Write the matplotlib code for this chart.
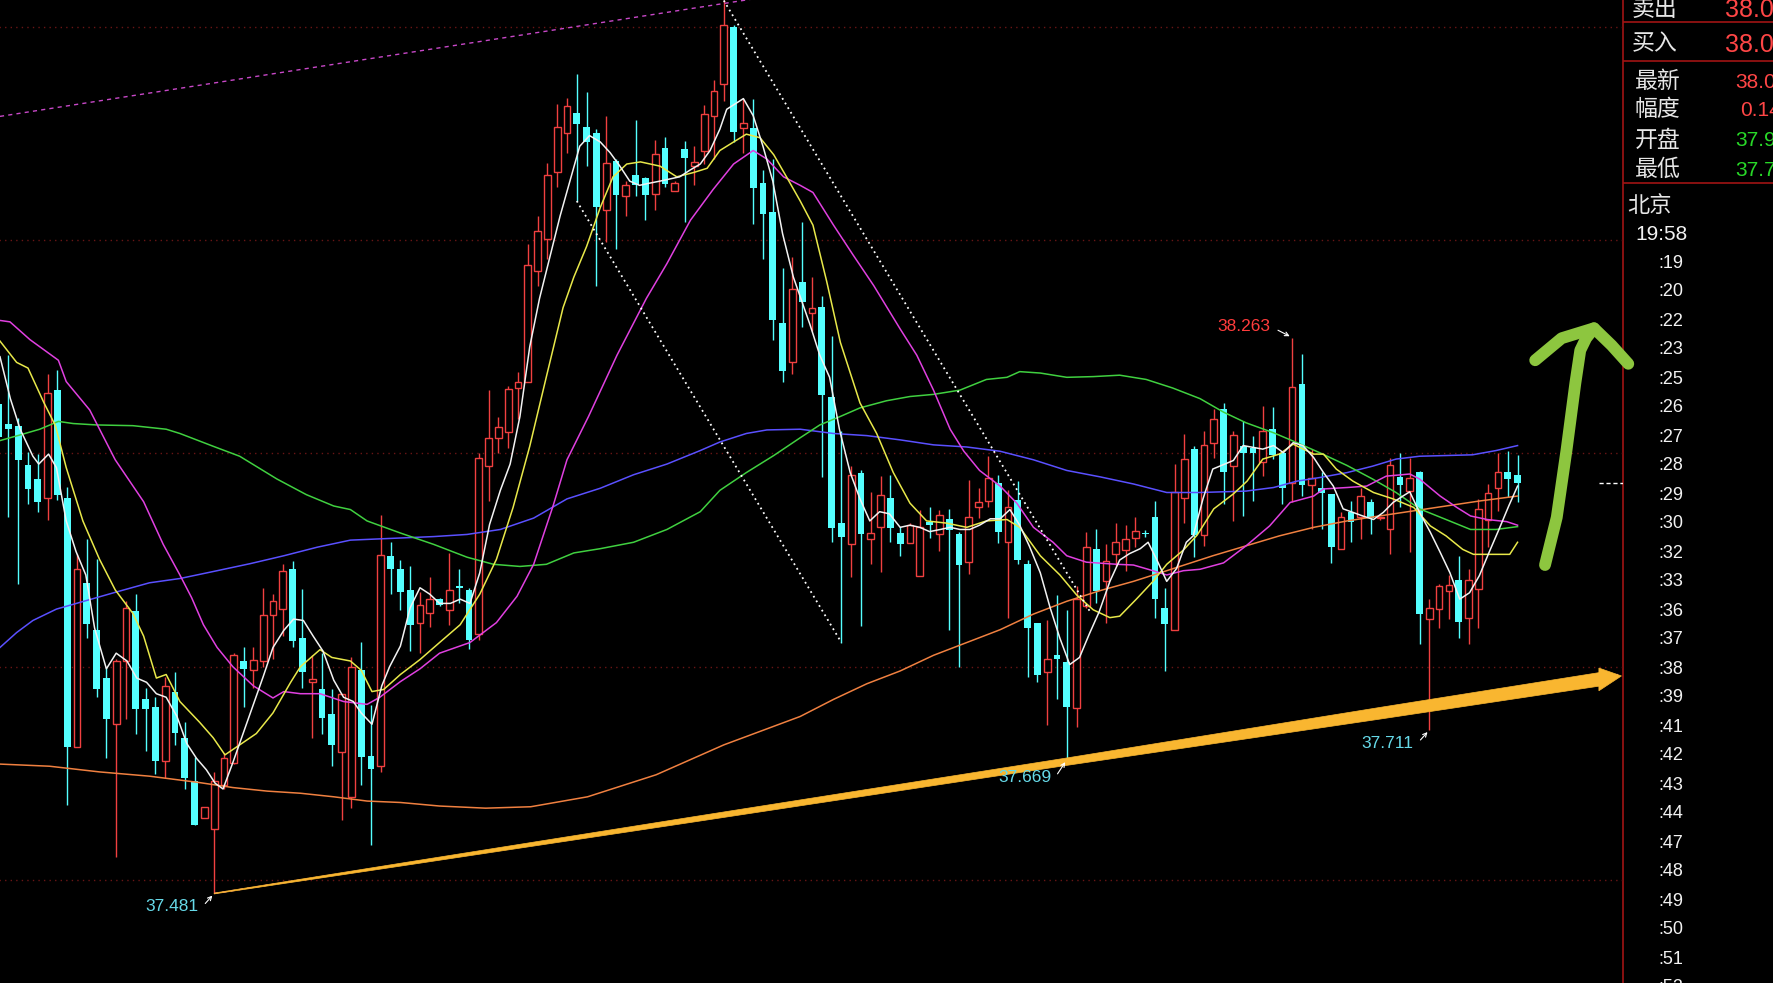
#%%
import numpy as np
import matplotlib
matplotlib.use('Agg')
import matplotlib.pyplot as plt
from matplotlib.patches import Polygon

plt.rcParams['font.family'] = ['Liberation Sans', 'Noto Sans CJK SC', 'DejaVu Sans']

W, H = 1773, 983

# ---- OHLC, bar index -1 .. 154 (bar -1 is cut by the left edge) ----
opens = [38.169, 38.142, 38.139, 38.083, 38.064, 38.037, 38.189, 38.037, 37.687, 37.918,
         37.851, 37.784, 37.719, 37.808, 37.878, 37.755, 37.743, 37.667, 37.764, 37.699,
         37.639, 37.587, 37.571, 37.633, 37.665, 37.808, 37.795, 37.808, 37.873, 37.881,
         37.937, 37.840, 37.778, 37.769, 37.733, 37.680, 37.617, 37.795, 37.675, 37.660,
         37.956, 37.937, 37.908, 37.861, 37.876, 37.895, 37.880, 37.914, 37.908, 37.846,
         38.082, 38.122, 38.130, 38.192, 38.201, 38.357, 38.402, 38.496, 38.550, 38.579,
         38.559, 38.550, 38.443, 38.511, 38.462, 38.492, 38.487, 38.465, 38.529, 38.469,
         38.528, 38.504, 38.526, 38.574, 38.619, 38.700, 38.558, 38.558, 38.480, 38.439,
         38.284, 38.229, 38.341, 38.298, 38.306, 38.180, 38.002, 37.972, 38.072, 37.979,
         37.996, 38.037, 37.988, 37.974, 37.928, 38.004, 37.987, 38.008, 37.987, 37.947,
         38.024, 38.033, 38.059, 37.975, 38.035, 37.944, 37.861, 37.792, 37.817, 37.806,
         37.742, 37.886, 37.966, 37.921, 37.958, 37.964, 37.981, 37.988, 38.010, 37.883,
         37.851, 38.037, 38.106, 37.985, 38.114, 38.162, 38.082, 38.111, 38.107, 38.088,
         38.135, 38.100, 38.059, 38.197, 38.055, 38.051, 38.043, 37.966, 38.017, 38.011,
         38.032, 38.009, 37.993, 38.067, 38.047, 38.074, 37.867, 37.881, 37.907, 37.922,
         37.869, 37.909, 38.007, 38.052, 38.074, 38.069]
highs = [38.180, 38.239, 38.150, 38.102, 38.099, 38.212, 38.217, 38.053, 37.959, 37.979,
         37.951, 37.800, 37.811, 37.892, 37.902, 37.770, 37.757, 37.786, 37.792, 37.722,
         37.673, 37.603, 37.652, 37.679, 37.819, 37.827, 37.827, 37.910, 37.902, 37.944,
         37.948, 37.909, 37.816, 37.819, 37.768, 37.762, 37.813, 37.835, 37.746, 38.014,
         37.975, 37.950, 37.941, 37.905, 37.926, 37.897, 37.960, 37.938, 37.911, 38.100,
         38.189, 38.151, 38.195, 38.214, 38.394, 38.434, 38.509, 38.591, 38.600, 38.633,
         38.608, 38.556, 38.575, 38.514, 38.483, 38.569, 38.489, 38.541, 38.545, 38.483,
         38.540, 38.532, 38.590, 38.625, 38.737, 38.702, 38.599, 38.599, 38.498, 38.514,
         38.361, 38.376, 38.425, 38.348, 38.321, 38.265, 38.131, 38.082, 38.076, 38.045,
         38.068, 38.070, 37.996, 38.002, 38.021, 38.025, 38.021, 38.022, 37.990, 38.062,
         38.051, 38.097, 38.070, 38.048, 38.061, 37.950, 37.861, 37.865, 37.901, 37.880,
         37.914, 37.990, 37.993, 37.972, 38.002, 37.999, 38.010, 37.992, 38.033, 37.911,
         38.085, 38.127, 38.111, 38.132, 38.162, 38.171, 38.132, 38.146, 38.125, 38.166,
         38.165, 38.101, 38.263, 38.240, 38.106, 38.074, 38.043, 38.017, 38.033, 38.051,
         38.036, 38.011, 38.094, 38.100, 38.094, 38.075, 37.895, 37.916, 37.929, 37.956,
         37.937, 38.036, 38.057, 38.100, 38.104, 38.098]
lows = [38.100, 38.010, 37.916, 38.029, 38.018, 38.007, 38.034, 37.606, 37.687, 37.840,
        37.757, 37.671, 37.533, 37.727, 37.706, 37.681, 37.649, 37.644, 37.690, 37.628,
        37.578, 37.587, 37.481, 37.628, 37.663, 37.743, 37.770, 37.800, 37.811, 37.843,
        37.827, 37.770, 37.700, 37.706, 37.660, 37.584, 37.601, 37.633, 37.549, 37.652,
        37.902, 37.880, 37.822, 37.819, 37.856, 37.885, 37.859, 37.889, 37.825, 37.837,
        38.033, 38.100, 38.107, 38.149, 38.201, 38.336, 38.373, 38.474, 38.523, 38.455,
        38.504, 38.336, 38.397, 38.388, 38.434, 38.462, 38.428, 38.442, 38.474, 38.469,
        38.426, 38.477, 38.507, 38.514, 38.596, 38.538, 38.523, 38.422, 38.373, 38.260,
        38.201, 38.211, 38.278, 38.272, 38.067, 37.975, 37.834, 37.926, 37.857, 37.944,
        37.933, 37.976, 37.956, 37.974, 37.928, 37.981, 37.963, 37.851, 37.799, 37.931,
        38.009, 38.024, 37.974, 37.868, 37.944, 37.785, 37.779, 37.718, 37.754, 37.669,
        37.715, 37.883, 37.889, 37.862, 37.941, 37.935, 37.969, 37.982, 37.868, 37.794,
        37.851, 38.002, 37.954, 37.970, 38.093, 38.029, 38.005, 38.012, 38.033, 38.068,
        38.092, 38.029, 38.031, 38.040, 37.993, 37.993, 37.946, 37.966, 37.975, 37.979,
        37.986, 38.007, 37.958, 38.025, 37.961, 37.832, 37.711, 37.855, 37.867, 37.841,
        37.832, 37.855, 37.968, 38.019, 38.038, 38.032]
closes = [38.123, 38.134, 38.091, 38.050, 38.032, 38.185, 38.042, 37.687, 37.937, 37.860,
          37.769, 37.727, 37.808, 37.883, 37.741, 37.740, 37.668, 37.773, 37.707, 37.644,
          37.578, 37.603, 37.639, 37.671, 37.816, 37.797, 37.810, 37.873, 37.892, 37.934,
          37.836, 37.792, 37.782, 37.728, 37.690, 37.761, 37.799, 37.673, 37.656, 37.957,
          37.938, 37.905, 37.859, 37.887, 37.895, 37.887, 37.908, 37.911, 37.837, 38.094,
          38.121, 38.137, 38.191, 38.200, 38.365, 38.413, 38.492, 38.559, 38.588, 38.563,
          38.538, 38.446, 38.509, 38.463, 38.478, 38.477, 38.463, 38.521, 38.479, 38.480,
          38.515, 38.510, 38.578, 38.610, 38.702, 38.552, 38.564, 38.473, 38.437, 38.288,
          38.216, 38.331, 38.313, 38.305, 38.182, 37.995, 37.983, 38.070, 37.987, 37.988,
          38.041, 37.995, 37.972, 37.999, 37.996, 37.999, 38.013, 37.992, 37.943, 38.010,
          38.031, 38.065, 37.990, 38.024, 37.950, 37.855, 37.788, 37.811, 37.811, 37.744,
          37.895, 37.969, 37.907, 37.949, 37.976, 37.979, 37.991, 37.986, 37.895, 37.860,
          38.045, 38.092, 37.985, 38.112, 38.149, 38.074, 38.126, 38.101, 38.101, 38.132,
          38.098, 38.052, 38.193, 38.056, 38.065, 38.044, 37.969, 38.011, 38.004, 38.040,
          38.009, 38.009, 38.084, 38.056, 38.065, 37.874, 37.883, 37.914, 37.915, 37.863,
          37.922, 38.022, 38.044, 38.074, 38.064, 38.059]

# ---- moving average lines: (bar index, price) ----
ma_white = [(-0.86, 38.236), (0.2, 38.177), (1.2, 38.134), (2.5, 38.096), (3.1, 38.085), (4.1, 38.099),
            (4.9, 38.080), (5.9, 38.005), (6.9, 37.962), (7.9, 37.929), (8.8, 37.854), (10.0, 37.797),
            (11.0, 37.819), (12.1, 37.808), (13.1, 37.784), (14.1, 37.778), (15.1, 37.762), (16.1, 37.757),
            (17.2, 37.730), (18.2, 37.692), (19.2, 37.671), (20.2, 37.655), (21.1, 37.636), (21.9, 37.628),
            (22.9, 37.665), (24.0, 37.708), (25.1, 37.751), (26.0, 37.786), (27.0, 37.827), (28.1, 37.851),
            (29.1, 37.867), (30.1, 37.865), (31.1, 37.843), (32.1, 37.822), (33.2, 37.781), (34.2, 37.757),
            (35.2, 37.751), (36.0, 37.735), (37.1, 37.719), (38.1, 37.773), (38.9, 37.800), (40.0, 37.829),
            (41.0, 37.883), (42.0, 37.911), (43.0, 37.902), (44.0, 37.889), (45.1, 37.889), (46.1, 37.895),
            (47.1, 37.889), (48.1, 37.932), (49.1, 38.000), (50.2, 38.048), (51.2, 38.085), (52.2, 38.152),
            (53.2, 38.250), (54.2, 38.318), (55.3, 38.379), (56.3, 38.434), (57.3, 38.483), (58.3, 38.532),
            (59.3, 38.547), (60.4, 38.538), (61.4, 38.523), (62.4, 38.504), (63.4, 38.483), (64.4, 38.477),
            (65.4, 38.480), (66.5, 38.483), (67.5, 38.486), (68.5, 38.489), (69.5, 38.498), (70.6, 38.507),
            (71.6, 38.526), (72.6, 38.556), (73.3, 38.584), (75.0, 38.599), (76.0, 38.575), (77.0, 38.532),
            (78.0, 38.483), (79.0, 38.409), (80.1, 38.348), (81.8, 38.281), (82.8, 38.238), (83.8, 38.207),
            (84.8, 38.134), (85.9, 38.073), (86.9, 38.036), (87.9, 38.005), (88.9, 38.018), (89.9, 38.015),
            (91.0, 37.996), (92.0, 37.999), (93.0, 37.996), (94.0, 37.990), (95.1, 37.993), (96.1, 37.996),
            (97.1, 37.993), (98.1, 37.993), (99.1, 37.999), (100.2, 38.008), (101.2, 38.008), (102.2, 38.021),
            (103.2, 37.999), (104.2, 37.969), (105.3, 37.932), (106.3, 37.883), (107.3, 37.840), (108.3, 37.803),
            (109.3, 37.813), (110.3, 37.846), (111.3, 37.877), (112.4, 37.920), (113.4, 37.950), (114.4, 37.959),
            (115.5, 37.966), (116.3, 37.975), (117.2, 37.950), (118.2, 37.920), (119.2, 37.938), (120.2, 37.975),
            (120.9, 37.984), (121.9, 38.036), (122.9, 38.078), (125.0, 38.090), (126.0, 38.111), (128.0, 38.106),
            (129.1, 38.111), (130.1, 38.101), (131.1, 38.115), (132.1, 38.111), (133.2, 38.094), (134.2, 38.073),
            (135.2, 38.054), (136.2, 38.022), (137.2, 38.017), (138.2, 38.012), (139.3, 38.007), (140.3, 38.017),
            (141.3, 38.031), (142.3, 38.040), (143.0, 38.046), (144.0, 38.017), (145.1, 37.989), (146.1, 37.961),
            (147.1, 37.932), (148.1, 37.895), (149.1, 37.904), (150.1, 37.928), (151.1, 37.961), (152.1, 37.993),
            (153.1, 38.026), (154.0, 38.054)]
ma_yellow = [(-0.86, 38.258), (0.84, 38.228), (2.0, 38.220), (3.6, 38.172), (4.8, 38.139), (5.9, 38.080),
             (7.6, 38.005), (9.3, 37.951), (10.9, 37.908), (12.7, 37.875), (13.8, 37.843), (15.1, 37.784),
             (16.1, 37.789), (17.5, 37.751), (19.5, 37.722), (20.9, 37.700), (22.1, 37.676), (23.6, 37.690),
             (25.3, 37.706), (27.0, 37.735), (28.8, 37.778), (29.8, 37.800), (31.8, 37.824), (33.0, 37.813),
             (34.9, 37.808), (36.0, 37.795), (37.1, 37.765), (38.3, 37.768), (40.0, 37.789), (42.0, 37.810),
             (44.0, 37.834), (46.1, 37.859), (48.1, 37.902), (49.8, 37.951), (51.5, 38.024), (53.2, 38.110),
             (54.9, 38.208), (56.6, 38.305), (57.7, 38.348), (59.0, 38.391), (60.4, 38.446), (61.7, 38.489),
             (63.1, 38.507), (64.5, 38.510), (66.5, 38.504), (68.2, 38.489), (69.9, 38.495), (71.3, 38.501),
             (72.6, 38.526), (74.0, 38.538), (75.3, 38.549), (76.7, 38.544), (78.1, 38.520), (79.4, 38.489),
             (80.8, 38.455), (82.1, 38.421), (83.5, 38.342), (84.9, 38.256), (86.9, 38.171), (88.6, 38.128),
             (90.3, 38.073), (92.0, 38.030), (93.7, 38.005), (95.7, 38.002), (97.8, 37.996), (99.8, 38.005),
             (101.9, 38.007), (103.2, 37.996), (105.3, 37.956), (107.3, 37.929), (109.0, 37.901), (110.7, 37.880),
             (112.4, 37.869), (113.4, 37.871), (115.1, 37.895), (116.8, 37.920), (118.2, 37.944), (119.9, 37.964),
             (121.3, 37.985), (123.0, 38.022), (125.0, 38.043), (126.4, 38.061), (128.0, 38.092), (129.7, 38.099),
             (131.1, 38.113), (133.2, 38.099), (134.2, 38.099), (135.5, 38.078), (137.2, 38.061), (139.3, 38.045),
             (141.3, 38.036), (143.4, 38.024), (145.1, 37.998), (146.7, 37.984), (148.4, 37.965), (149.5, 37.958),
             (151.8, 37.958), (153.2, 37.958), (154.0, 37.975)]
ma_magenta = [(-0.86, 38.287), (0.16, 38.285), (2.2, 38.260), (5.1, 38.231), (5.9, 38.201), (8.3, 38.161),
              (10.9, 38.091), (13.8, 38.032), (15.8, 37.972), (17.5, 37.929), (18.7, 37.897), (19.9, 37.859),
              (21.3, 37.827), (22.9, 37.800), (25.0, 37.773), (27.0, 37.756), (28.1, 37.765), (29.8, 37.762),
              (31.8, 37.762), (34.2, 37.751), (36.6, 37.747), (37.9, 37.757), (40.0, 37.779), (42.0, 37.797),
              (44.0, 37.819), (47.1, 37.834), (49.8, 37.862), (51.9, 37.899), (53.6, 37.944), (55.6, 38.027),
              (57.0, 38.091), (59.2, 38.152), (62.1, 38.238), (65.1, 38.318), (67.2, 38.367), (69.6, 38.428),
              (71.9, 38.471), (74.0, 38.507), (76.0, 38.526), (77.4, 38.514), (79.1, 38.489), (80.8, 38.477),
              (82.1, 38.467), (84.2, 38.421), (86.2, 38.379), (88.3, 38.336), (91.0, 38.275), (92.7, 38.238),
              (94.4, 38.189), (96.1, 38.134), (97.5, 38.103), (99.1, 38.076), (101.2, 38.054), (102.9, 38.030),
              (104.6, 37.996), (106.6, 37.975), (108.0, 37.956), (110.0, 37.947), (113.1, 37.944), (114.8, 37.943),
              (116.8, 37.935), (118.2, 37.929), (119.9, 37.935), (121.6, 37.937), (124.0, 37.946), (126.3, 37.970),
              (128.7, 37.998), (130.8, 38.031), (133.2, 38.040), (134.2, 38.050), (136.6, 38.052), (138.6, 38.054),
              (140.6, 38.068), (143.0, 38.071), (144.0, 38.064), (146.1, 38.040), (147.8, 38.024), (149.2, 38.012),
              (150.9, 38.007), (152.9, 38.004), (154.0, 37.999)]
ma_green = [(-0.86, 38.118), (1.2, 38.126), (3.2, 38.134), (5.1, 38.145), (6.6, 38.142), (9.0, 38.140),
            (12.7, 38.139), (16.1, 38.134), (17.5, 38.128), (20.9, 38.110), (23.6, 38.096), (27.4, 38.064),
            (30.4, 38.042), (33.2, 38.026), (34.9, 38.021), (36.6, 38.005), (40.0, 37.988), (43.4, 37.972),
            (46.8, 37.954), (49.5, 37.944), (52.2, 37.941), (54.9, 37.944), (57.7, 37.960), (60.4, 37.966),
            (63.8, 37.975), (67.2, 37.993), (70.6, 38.018), (72.6, 38.048), (75.3, 38.073), (78.1, 38.097),
            (80.8, 38.122), (82.8, 38.140), (84.9, 38.152), (86.9, 38.164), (89.6, 38.174), (92.0, 38.180),
            (94.4, 38.183), (97.1, 38.189), (99.8, 38.204), (101.9, 38.207), (103.2, 38.215), (105.3, 38.213),
            (108.0, 38.207), (110.7, 38.208), (113.4, 38.210), (116.1, 38.204), (118.8, 38.192), (121.6, 38.177),
            (124.0, 38.158), (126.3, 38.143), (129.1, 38.129), (131.5, 38.115), (133.8, 38.101), (136.6, 38.083),
            (139.2, 38.064), (141.6, 38.045), (144.0, 38.022), (146.7, 38.007), (149.2, 37.993), (151.8, 37.993),
            (154.0, 37.997)]
ma_blue = [(-0.86, 37.827), (0.84, 37.848), (2.5, 37.865), (4.9, 37.881), (7.7, 37.892), (11.0, 37.905),
           (14.4, 37.918), (17.5, 37.924), (21.3, 37.935), (24.7, 37.945), (28.1, 37.956), (31.5, 37.968),
           (34.9, 37.978), (38.3, 37.980), (43.4, 37.983), (46.8, 37.986), (50.2, 37.993), (53.6, 38.009),
           (57.0, 38.036), (60.4, 38.051), (63.8, 38.070), (67.2, 38.085), (70.6, 38.104), (72.6, 38.116),
           (75.3, 38.128), (77.4, 38.133), (80.8, 38.134), (84.2, 38.128), (87.6, 38.125), (91.0, 38.119),
           (94.4, 38.112), (97.8, 38.109), (101.2, 38.103), (104.6, 38.091), (108.0, 38.076), (111.4, 38.067),
           (114.8, 38.057), (118.2, 38.045), (121.6, 38.045), (124.0, 38.046), (126.3, 38.047), (129.1, 38.052),
           (131.5, 38.061), (133.8, 38.066), (136.6, 38.073), (139.2, 38.082), (141.6, 38.092), (144.0, 38.096),
           (146.7, 38.097), (149.4, 38.098), (151.8, 38.104), (154.0, 38.111)]
ma_orange = [(-0.86, 37.663), (4.2, 37.660), (9.3, 37.652), (14.4, 37.646), (19.5, 37.637), (22.9, 37.630),
             (26.4, 37.625), (29.8, 37.622), (33.2, 37.617), (36.6, 37.611), (40.0, 37.609), (44.0, 37.604),
             (48.7, 37.601), (53.3, 37.603), (59.1, 37.617), (66.1, 37.648), (73.0, 37.690), (80.8, 37.730),
             (84.2, 37.754), (87.6, 37.776), (91.0, 37.794), (94.4, 37.816), (97.8, 37.834), (101.2, 37.852),
             (104.6, 37.874), (108.0, 37.892), (111.4, 37.907), (114.8, 37.920), (118.2, 37.935), (122.9, 37.956),
             (126.3, 37.970), (129.7, 37.984), (133.2, 37.996), (136.6, 38.005), (139.9, 38.012), (143.3, 38.019),
             (146.7, 38.026), (150.1, 38.033), (154.0, 38.040)]

# price labels marked on the chart: (bar, price, text, colour)
marks = [(21, 37.481, '37.481', '#66d9e8'), (131, 38.263, '38.263', '#ff3c3c'),
         (108, 37.669, '37.669', '#66d9e8'), (145, 37.711, '37.711', '#66d9e8')]

# side panel
quote_names = ['卖出', '买入', '最新', '幅度', '开盘', '最低']
quote_values = ['38.065', '38.060', '38.061', '0.14%', '37.951', '37.711']
minute_labels = [':19', ':20', ':22', ':23', ':25', ':26', ':27', ':28', ':29', ':30', ':32', ':33', ':36',
                 ':37', ':38', ':39', ':41', ':42', ':43', ':44', ':47', ':48', ':49', ':50', ':51', ':52']

# --------------- colours ---------------
up_col, down_col = '#f04040', '#54ffff'
ma_cols = {'white': '#f2f2f2', 'yellow': '#e8e84a', 'magenta': '#e040e0',
           'green': '#40d040', 'blue': '#5a50ff', 'orange': '#f08040'}

# --------------- figure ---------------
fig = plt.figure(figsize=(W / 100, H / 100), dpi=100)
fig.set_facecolor('black')

ov = fig.add_axes([0, 0, 1, 1], zorder=0)
ov.set_xlim(0, W)
ov.set_ylim(H, 0)
ov.axis('off')

ax = fig.add_axes([0, 0, 1623 / W, 1], zorder=1)
ax.axis('off')
ax.set_xlim(-0.857, 164.76)
ax.set_ylim(37.3551, 38.7377)

x = np.arange(-1, len(opens) - 1)
o, h, l, c = map(np.array, (opens, highs, lows, closes))
up = c >= o
bot = np.minimum(o, c)
hgt = np.maximum(np.abs(c - o), 0.0015)

# grid
ax.hlines([37.5, 37.8, 38.1, 38.4, 38.7], -1, 164.76, colors='#6a1515',
          linestyles=(0, (1, 3)), lw=1, zorder=0)

# candles
ax.vlines(x[up], l[up], h[up], color=up_col, lw=1, zorder=2)
ax.bar(x[up], hgt[up], bottom=bot[up], width=0.68, facecolor='black',
       edgecolor=up_col, lw=1, zorder=3)
ax.vlines(x[~up], l[~up], h[~up], color=down_col, lw=1, zorder=2)
ax.bar(x[~up], hgt[~up], bottom=bot[~up], width=0.7, color=down_col, lw=0, zorder=3)

# moving averages
for name, pts in [('orange', ma_orange), ('blue', ma_blue), ('green', ma_green),
                  ('magenta', ma_magenta), ('yellow', ma_yellow), ('white', ma_white)]:
    px, py = zip(*pts)
    ax.plot(px, py, color=ma_cols[name], lw=1.1, zorder=4)

# channel lines (magenta dashed), parallel
ch_slope = 0.00215
ax.plot([-0.86, 80], [38.574, 38.574 + ch_slope * 80.86], color='#c848c8',
        lw=1, ls=(0, (3, 3)), zorder=4)
ax.plot([21, 164.5], [37.481, 37.481 + ch_slope * 143.5], color='#c848c8',
        lw=1, ls=(0, (3, 3)), zorder=4)

# white dotted trend lines: low of bar 58 -> low of bar 85, and a parallel from the top
k = (lows[85 + 1] - lows[58 + 1]) / (85 - 58)
ax.plot([58, 85], [lows[58 + 1], lows[85 + 1]], color='white', lw=1.3, ls=(0, (1, 2)), zorder=5)
ax.plot([73, 110.4], [highs[73 + 1], highs[73 + 1] + k * 37.4], color='white', lw=1.3,
        ls=(0, (1, 2)), zorder=5)

# last price marker
ax.hlines(closes[-1], 162.3, 164.76, colors='white', linestyles=(0, (3, 2)), lw=1, zorder=5)

# hand drawn yellow arrow (support)
i0, p0, i1, p1 = 21, 37.481, 164.6, 37.787
line = lambda i: p0 + (i - i0) * (p1 - p0) / (i1 - i0)
half = [(21, 0.0006), (40, 0.002), (70, 0.0037), (108, 0.0052), (140, 0.0082), (162.3, 0.0095)]
upper = [(i, line(i) + t) for i, t in half]
lower = [(i, line(i) - t) for i, t in half][::-1]
head = [(162.3, line(162.3) + 0.016), (i1, p1), (162.3, line(162.3) - 0.016)]
ax.add_patch(Polygon(upper + head + lower, closed=True, facecolor='#f9b630',
                     edgecolor='#f9b630', lw=0.5, zorder=6, clip_on=False))

# hand drawn green arrow (up)
shaft = [(156.8, 37.943), (158.0, 38.010), (159.0, 38.105), (159.9, 38.199), (160.4, 38.245),
         (161.0, 38.262), (161.8, 38.276)]
tip = [(155.8, 38.231), (158.5, 38.262), (161.8, 38.276), (163.6, 38.252), (165.3, 38.226)]
for pts in (shaft, tip):
    px, py = zip(*pts)
    ax.plot(px, py, color='#8dc63f', lw=8.5, solid_capstyle='round',
            solid_joinstyle='round', zorder=7, clip_on=False)

# high / low labels with small white arrows
for bi, price, txt, col in marks:
    above = col == '#ff3c3c'
    if above:
        tx, ty = bi - 1.6, price + 0.016
    else:
        tx, ty = bi - 1.0, price - 0.019
    if txt == '37.669':
        ty -= 0.006
    ax.text(tx - 0.6, ty, txt, color=col, fontsize=12.5, ha='right', va='center', zorder=8)
    ax.annotate('', xy=(bi, price), xytext=(tx - 0.1, ty - 0.004 if above else ty + 0.002),
                arrowprops=dict(arrowstyle='->', color='white', lw=0.8, mutation_scale=7),
                zorder=8)

# --------------- side panel ---------------
ov.vlines(1623, 0, H, colors='#a01414', lw=1.2)
ov.hlines([22, 61, 183], 1623, W, colors='#a01414', lw=1.2)

name_y = [9, 44, 82, 110, 140, 169]
for k_, (nm, val, yy) in enumerate(zip(quote_names, quote_values, name_y)):
    big = k_ < 2
    ov.text(1632 if big else 1635, yy, nm, color='#e6e6e6', fontsize=16.5,
            va='center', ha='left', family=['Noto Sans CJK SC', 'DejaVu Sans'])
    vcol = '#28d828' if nm in ('开盘', '最低') else '#ff4646'
    vx = 1725 if big else (1740 if nm == '幅度' else 1735)
    ov.text(vx, yy + 1, val, color=vcol, fontsize=18 if big else 15, va='center', ha='left')

ov.text(1627, 206, '北京', color='#e6e6e6', fontsize=16, va='center', ha='left',
        family=['Noto Sans CJK SC', 'DejaVu Sans'])
ov.text(1635, 234, '19:58', color='#f2f2f2', fontsize=15, va='center', ha='left')
for k_, lab in enumerate(minute_labels):
    ov.text(1658, 263 + 29 * k_, lab, color='#f2f2f2', fontsize=13, va='center', ha='left')

fig.savefig('out.png', dpi=100, facecolor='black')
